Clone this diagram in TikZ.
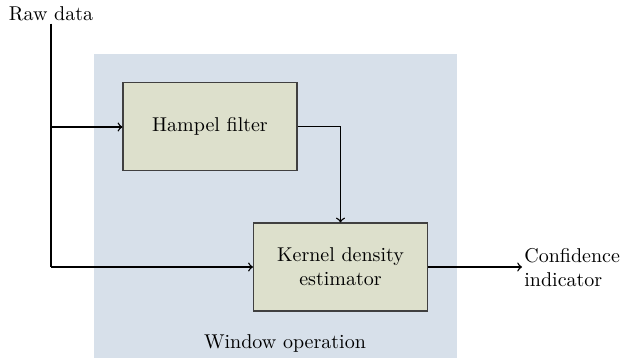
\documentclass[tikz,border=0pt]{standalone}
\usepackage{tikz}
\usetikzlibrary{positioning}
\definecolor{winbg}{RGB}{215,224,234}
\definecolor{boxfill}{RGB}{221,224,204}
\tikzset{
  blockbox/.style={draw=black!75, fill=boxfill, line width=0.6pt, align=center,
    minimum width=87pt, minimum height=44pt},
  flow/.style={->, line width=0.7pt}
}

\begin{document}
\begin{tikzpicture}[x=0.5pt,y=-0.5pt]
                \useasboundingbox (0,0) rectangle (637,358);
                % window background
                \fill[winbg] (94,54) rectangle (457,358);
                \node (window) at (285,343) {Window operation};
                % blocks
                \node[blockbox] (hampel) at (210,126.5) {Hampel filter};
                \node[blockbox] (kde) at (340.5,267) {Kernel density\\estimator};
                % input and output
                \node[inner sep=1pt] (raw) at (51,14) {Raw data};
                \node[anchor=west, align=left, inner sep=1pt] (conf) at (522,268) {Confidence\\indicator};
                \coordinate (split1) at (51,127);
                \coordinate (split2) at (51,267);
                % connectors
                \draw[line width=0.7pt] (raw.south) -- (split2);
                \draw[flow] (split1) -- (hampel.west |- split1);
                \draw[flow] (split2) -- (kde.west |- split2);
                \draw[flow] (hampel.east) -| (kde.north);
                \draw[flow] (kde.east) -- (conf.west |- kde.east);
            \end{tikzpicture}
\end{document}
